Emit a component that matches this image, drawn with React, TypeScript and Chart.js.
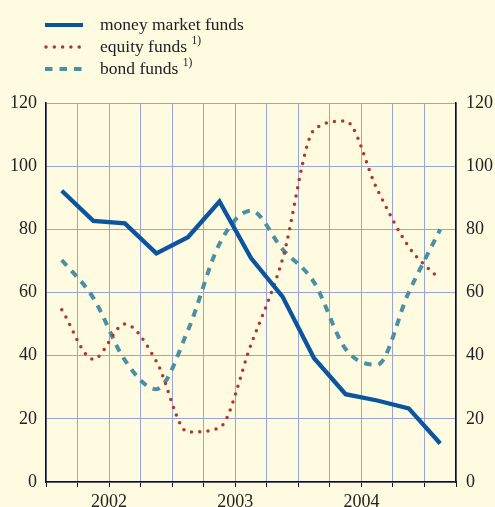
import React, { useEffect, useRef } from "react";
import { Chart, registerables } from "chart.js";

Chart.register(...registerables);

const quarters = [
  "2002Q1", "2002Q2", "2002Q3", "2002Q4",
  "2003Q1", "2003Q2", "2003Q3", "2003Q4",
  "2004Q1", "2004Q2", "2004Q3", "2004Q4",
  "2005Q1",
];
const yearLabels = ["2002", "2003", "2004"];
const moneyMarket = [92.2, 82.7, 81.9, 72.4, 77.5, 88.8, 70.9, 58.7, 39.2, 27.8, 25.8, 23.3, 12.2];
const equityFunds = [54.5, 38.9, 50.0, 38.2, 15.8, 17.2, 43.5, 70.6, 111.5, 114.3, 92.7, 74.5, 64.0];
const bondFunds = [70.3, 58.3, 38.6, 29.4, 48.0, 75.4, 85.9, 73.7, 63.2, 42.1, 37.1, 60.0, 80.0];
const yTicks = [0, 20, 40, 60, 80, 100, 120];

const BG = "#fefbe0";
const BLUE = "#0b55a0";
const RED = "#b03535";
const TEAL = "#4a8fa3";
const GRID = "#98a4dc";
const FONT = "'Liberation Serif', 'Times New Roman', serif";

const legendItems = [
  { text: "money market funds", sup: "", color: BLUE, width: 4, dash: [] as number[], cap: "butt" },
  { text: "equity funds", sup: "1)", color: RED, width: 3.5, dash: [0, 8.3], cap: "round" },
  { text: "bond funds", sup: "1)", color: TEAL, width: 4, dash: [7.5, 7], cap: "butt" },
];

const legendPlugin = {
  id: "customLegend",
  afterDraw(chart: any) {
    const ctx = chart.ctx;
    ctx.save();
    legendItems.forEach((it, i) => {
      const y = 25 + i * 22;
      ctx.beginPath();
      ctx.strokeStyle = it.color;
      ctx.lineWidth = it.width;
      ctx.setLineDash(it.dash);
      ctx.lineCap = it.cap as CanvasLineCap;
      ctx.moveTo(it.cap === "round" ? 46 : 45, y);
      ctx.lineTo(83, y);
      ctx.stroke();
      ctx.setLineDash([]);
      ctx.fillStyle = "#222";
      ctx.font = `17.5px ${FONT}`;
      ctx.textBaseline = "middle";
      ctx.textAlign = "left";
      ctx.fillText(it.text, 100, y);
      if (it.sup) {
        const w = ctx.measureText(it.text + " ").width;
        ctx.font = `11.5px ${FONT}`;
        ctx.fillText(it.sup, 100 + w, y - 6);
      }
    });
    ctx.restore();
  },
};

const bgPlugin = {
  id: "bg",
  beforeDraw(chart: any) {
    const ctx = chart.ctx;
    ctx.save();
    ctx.fillStyle = BG;
    ctx.fillRect(0, 0, chart.width, chart.height);
    ctx.restore();
  },
};

export default function App() {
  const ref = useRef<HTMLCanvasElement>(null);

  useEffect(() => {
    document.body.style.margin = "0";
    document.body.style.background = BG;
    const toPts = (arr: number[]) => arr.map((v, i) => ({ x: i + 0.5, y: v }));
    const yearPos: Record<number, string> = {};
    yearLabels.forEach((y, i) => {
      yearPos[2 + i * 4] = y;
    });
    const chart = new Chart(ref.current as HTMLCanvasElement, {
      type: "line",
      data: {
        labels: quarters,
        datasets: [
          {
            label: "money market funds",
            data: toPts(moneyMarket),
            borderColor: BLUE,
            borderWidth: 4.3,
            pointRadius: 0,
            tension: 0,
            borderJoinStyle: "miter",
          },
          {
            label: "equity funds",
            data: toPts(equityFunds),
            borderColor: RED,
            borderWidth: 3.5,
            borderDash: [0, 8.3],
            borderCapStyle: "round",
            pointRadius: 0,
            cubicInterpolationMode: "monotone",
          },
          {
            label: "bond funds",
            data: toPts(bondFunds),
            borderColor: TEAL,
            borderWidth: 4,
            borderDash: [7.5, 7],
            pointRadius: 0,
            cubicInterpolationMode: "monotone",
          },
        ],
      },
      options: {
        animation: false,
        responsive: false,
        maintainAspectRatio: false,
        layout: { padding: { top: 103, left: 0, right: 0, bottom: 0 }, autoPadding: false },
        plugins: { legend: { display: false }, tooltip: { enabled: false } },
        scales: {
          x: {
            type: "linear",
            min: 0,
            max: quarters.length,
            afterFit: (s: any) => { s.height = 25; },
            afterBuildTicks: (s: any) => {
              const t = [];
              for (let i = 0; i <= quarters.length; i++) t.push({ value: i });
              s.ticks = t;
            },
            grid: { color: GRID, lineWidth: 1, tickColor: "#111", tickLength: 5, drawTicks: true },
            border: { color: "#111", width: 1.5 },
            ticks: {
              autoSkip: false,
              maxRotation: 0,
              padding: 4,
              color: "#222",
              font: { family: FONT, size: 18 },
              callback: (v: any) => yearPos[v] || "",
            },
          },
          y: {
            position: "left",
            min: 0,
            max: 120,
            afterFit: (s: any) => { s.width = 46; },
            afterBuildTicks: (s: any) => { s.ticks = yTicks.map((v) => ({ value: v })); },
            grid: { color: GRID, lineWidth: 1, drawTicks: false },
            border: { color: "#111", width: 1.5 },
            ticks: { padding: 9, color: "#222", font: { family: FONT, size: 18 } },
          },
          y2: {
            position: "right",
            min: 0,
            max: 120,
            afterFit: (s: any) => { s.width = 39; },
            afterBuildTicks: (s: any) => { s.ticks = yTicks.map((v) => ({ value: v })); },
            grid: { drawOnChartArea: false, drawTicks: false },
            border: { color: "#111", width: 1.5 },
            ticks: { padding: 10, color: "#222", font: { family: FONT, size: 18 } },
          },
        },
      },
      plugins: [bgPlugin, legendPlugin],
    } as any);
    return () => chart.destroy();
  }, []);

  return (
    <div style={{ position: "fixed", left: 0, top: 0, width: 495, height: 507, background: BG }}>
      <canvas ref={ref} width={495} height={507} style={{ display: "block", width: 495, height: 507 }} />
    </div>
  );
}
